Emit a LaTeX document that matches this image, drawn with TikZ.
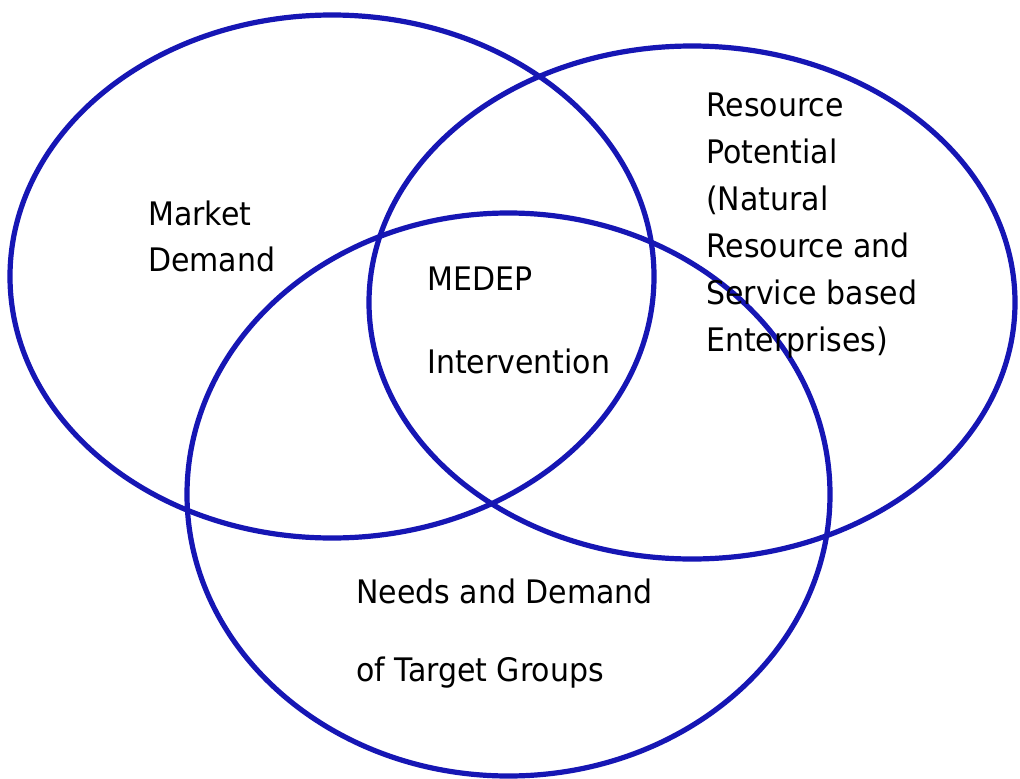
\documentclass[tikz,border=0pt]{standalone}
\usepackage{fontspec}
\setmainfont{DejaVu Sans}
\definecolor{vennblue}{RGB}{22,22,180}
\begin{document}
\begin{tikzpicture}[x=1pt,y=-1pt,
  ring/.style={draw=vennblue,line width=5.2pt},
  lbl/.style={anchor=base west,inner sep=0pt,font=\fontsize{30}{36}\selectfont,text=black,yscale=1.08,transform shape}]
\useasboundingbox (0,0) rectangle (1020,779);
\fill[white] (0,0) rectangle (1020,779);
% circles
\draw[ring] (332,276.5) ellipse [x radius=322, y radius=261.5];
\draw[ring] (692,302.5) ellipse [x radius=323, y radius=256.5];
\draw[ring] (508.5,494.5) ellipse [x radius=321.5, y radius=281.5];
% Market Demand
\node[lbl] (m1) at (148,225) {Market};
\node[lbl] (m2) at (148,271) {Demand};
% MEDEP Intervention
\node[lbl] (c1) at (427,290) {MEDEP};
\node[lbl] (c2) at (427,373) {Intervention};
% Resource Potential
\node[lbl] (r1) at (706,116) {Resource};
\node[lbl] (r2) at (706,163) {Potential};
\node[lbl] (r3) at (706,210) {(Natural};
\node[lbl] (r4) at (706,257) {Resource and};
\node[lbl] (r5) at (706,304) {Service based};
\node[lbl] (r6) at (706,351) {Enterprises)};
% Needs and Demand
\node[lbl] (n1) at (356,603) {Needs and Demand};
\node[lbl] (n2) at (356,681) {of Target Groups};
\end{tikzpicture}
\end{document}
